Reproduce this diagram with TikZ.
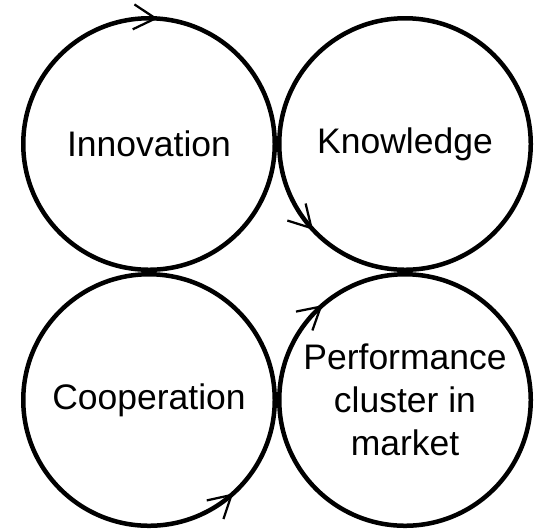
\documentclass[tikz,border=0pt]{standalone}
\usepackage{fontspec}
\setmainfont{Liberation Sans}
\usepackage{tikz}
\usetikzlibrary{arrows.meta,positioning}

\begin{document}
\begin{tikzpicture}[
    bubble/.style={circle, draw, line width=0.09cm, minimum size=5.03cm, inner sep=0pt,
        font=\fontsize{20.2}{24.5}\selectfont, align=center},
    flow/.style={line width=0.045cm, -{Straight Barb[length=0.44cm, width=0.5cm]}}
]
    % Page frame
    \useasboundingbox (0,0) rectangle (10.72,-10.58);

    % Circles
    \node[bubble] (inno) at (2.98,-2.88) {Innovation};
    \node[bubble, right=0pt of inno] (know) {Knowledge};
    \node[bubble, below=0pt of inno] (coop) {Cooperation};
    \node[bubble, right=0pt of coop] (perf) {Performance\\cluster in\\market};

    % Direction marks on the circles
    \draw[flow] (inno.center) ++(97:2.515) arc[start angle=97, end angle=86, radius=2.515];
    \draw[flow] (know.center) ++(211:2.515) arc[start angle=211, end angle=223, radius=2.515];
    \draw[flow] (perf.center) ++(142:2.515) arc[start angle=142, end angle=131, radius=2.515];
    \draw[flow] (coop.center) ++(-60:2.515) arc[start angle=-60, end angle=-48, radius=2.515];

\end{tikzpicture}
\end{document}
